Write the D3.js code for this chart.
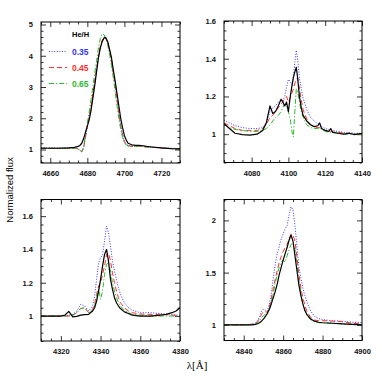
<!DOCTYPE html>
<html><head><meta charset="utf-8">
<script src="https://cdn.jsdelivr.net/npm/d3@7"></script>
<style>
html,body{margin:0;padding:0;background:#fff;}
svg{display:block;font-family:"Liberation Sans",Arial,sans-serif;}
</style></head>
<body><svg id="c" width="382" height="382"></svg>
<script>
// ---------- DATA ----------
const legendLabels = ["0.35", "0.45", "0.65"];
const legendTitle = "He/H";
const yTitle = "Normalized flux";
const xTitle = "λ[Å]";

// Panel 1: He II 4686
const p1Wave = [4655,4660,4665,4670,4673,4675,4676,4677,4678,4679,4680,4681,4682,4683,4684,4685,4686,4687,4688,4689,4690,4691,4692,4693,4694,4695,4696,4697,4698,4699,4700,4701,4702,4704,4706,4708,4710,4712,4715,4720,4725,4730];
const p1Obs  = [1.04,1.04,1.04,1.05,1.07,1.1,1.13,1.2,1.35,1.55,1.75,1.95,2.25,2.65,3.05,3.5,3.95,4.25,4.45,4.57,4.58,4.45,4.2,3.95,3.55,3.2,2.8,2.4,2.0,1.7,1.45,1.3,1.2,1.15,1.13,1.13,1.12,1.1,1.08,1.05,1.03,1.02];
const p1M035 = [1.06,1.055,1.05,1.05,1.045,1.03,0.98,0.94,1.05,1.38,1.72,2.02,2.35,2.75,3.15,3.55,3.92,4.25,4.47,4.6,4.58,4.45,4.2,3.9,3.5,3.1,2.65,2.2,1.8,1.5,1.28,1.17,1.13,1.11,1.11,1.12,1.11,1.09,1.07,1.05,1.04,1.03];
const p1M045 = [1.04,1.04,1.04,1.04,1.04,1.02,0.97,0.93,1.05,1.4,1.75,2.05,2.4,2.8,3.2,3.6,3.95,4.3,4.5,4.6,4.55,4.4,4.15,3.85,3.45,3.05,2.6,2.15,1.75,1.45,1.25,1.15,1.12,1.1,1.1,1.1,1.1,1.08,1.07,1.05,1.03,1.02];
const p1M065 = [1.04,1.04,1.04,1.04,1.04,1.02,0.96,0.92,1.1,1.5,1.85,2.2,2.6,3.0,3.45,3.85,4.25,4.55,4.7,4.68,4.55,4.35,4.05,3.7,3.3,2.85,2.4,2.0,1.65,1.38,1.22,1.14,1.11,1.1,1.1,1.1,1.09,1.08,1.07,1.05,1.03,1.02];

// Panel 2: H delta
const p2Wave = [4065,4068,4071,4075,4079,4083,4086,4088,4090,4091.5,4093,4094.5,4096,4097,4098,4099,4100,4101,4102,4102.7,4103.5,4104.3,4105,4106,4107,4108,4110,4112,4114,4116,4117,4118,4120,4122,4123,4124,4127,4130,4133,4136,4140];
const p2Obs  = [1.055,1.03,1.005,0.998,0.995,1.0,1.02,1.06,1.15,1.11,1.12,1.15,1.185,1.17,1.15,1.17,1.12,1.2,1.26,1.3,1.33,1.355,1.3,1.2,1.14,1.1,1.07,1.05,1.04,1.045,1.06,1.03,1.02,1.015,1.03,1.01,1.005,1.0,1.005,0.998,1.005];
const p2M035 = [1.075,1.06,1.045,1.035,1.03,1.03,1.035,1.06,1.12,1.14,1.15,1.17,1.18,1.18,1.2,1.25,1.29,1.28,1.26,1.3,1.38,1.445,1.4,1.3,1.24,1.19,1.13,1.09,1.07,1.055,1.055,1.04,1.03,1.025,1.025,1.02,1.015,1.01,1.01,1.005,1.005];
const p2M045 = [1.06,1.045,1.03,1.02,1.02,1.02,1.03,1.05,1.09,1.1,1.12,1.14,1.16,1.17,1.19,1.2,1.17,1.19,1.22,1.24,1.27,1.29,1.3,1.24,1.18,1.13,1.08,1.05,1.04,1.035,1.035,1.03,1.02,1.015,1.015,1.012,1.01,1.005,1.005,1.0,1.0];
const p2M065 = [1.05,1.035,1.025,1.02,1.015,1.015,1.02,1.03,1.05,1.07,1.09,1.1,1.12,1.14,1.16,1.15,1.12,1.08,1.01,0.985,1.12,1.24,1.23,1.17,1.12,1.09,1.05,1.035,1.03,1.03,1.035,1.025,1.015,1.01,1.01,1.01,1.005,1.0,1.0,1.0,1.0];

// Panel 3: H gamma
const p3Wave = [4310,4315,4320,4322,4324,4326,4328,4330,4332,4334,4336,4337,4338,4339,4340,4341,4342,4343,4344,4345,4346,4347,4348,4349,4350,4352,4354,4356,4360,4365,4370,4373,4376,4378,4380];
const p3Obs  = [1.0,1.0,1.0,1.005,1.028,0.995,0.998,1.005,1.008,1.01,1.03,1.05,1.09,1.15,1.22,1.3,1.37,1.4,1.33,1.22,1.16,1.11,1.08,1.06,1.045,1.025,1.015,1.005,1.0,1.0,1.005,1.01,1.02,1.03,1.05];
const p3M035 = [1.0,1.0,1.0,1.0,1.005,1.01,1.03,1.07,1.06,1.03,1.06,1.12,1.22,1.32,1.35,1.37,1.45,1.54,1.5,1.42,1.33,1.27,1.22,1.17,1.13,1.08,1.05,1.035,1.02,1.02,1.015,1.012,1.01,1.005,1.005];
const p3M045 = [1.0,1.0,1.0,1.0,1.0,1.005,1.02,1.045,1.05,1.02,1.04,1.07,1.13,1.18,1.2,1.25,1.3,1.37,1.38,1.33,1.26,1.2,1.15,1.11,1.08,1.05,1.03,1.02,1.012,1.01,1.01,1.008,1.005,1.005,1.0];
const p3M065 = [1.0,1.0,1.0,1.0,1.0,1.005,1.02,1.045,1.05,1.02,1.03,1.06,1.11,1.16,1.1,1.15,1.25,1.31,1.32,1.27,1.2,1.15,1.11,1.08,1.06,1.035,1.02,1.01,1.005,1.0,1.0,1.0,1.0,1.0,1.0];

// Panel 4: H beta
const p4Wave = [4830,4835,4840,4844,4846,4847,4848,4849,4850,4851,4852,4853,4854,4855,4856,4857,4858,4859,4860,4861,4862,4863,4864,4865,4866,4867,4868,4869,4870,4871,4872,4874,4876,4878,4880,4885,4890,4895,4900];
const p4Obs  = [1.0,1.0,1.0,1.0,1.005,1.01,1.02,1.035,1.055,1.08,1.11,1.15,1.2,1.26,1.32,1.39,1.48,1.55,1.62,1.68,1.74,1.81,1.86,1.8,1.66,1.52,1.38,1.28,1.2,1.14,1.1,1.055,1.035,1.025,1.02,1.015,1.01,1.005,1.0];
const p4M035 = [1.0,1.0,1.0,1.005,1.02,1.04,1.08,1.13,1.15,1.14,1.13,1.2,1.3,1.45,1.58,1.68,1.75,1.82,1.87,1.92,1.95,2.05,2.13,2.1,1.95,1.75,1.55,1.45,1.35,1.28,1.22,1.13,1.08,1.06,1.05,1.04,1.035,1.025,1.02];
const p4M045 = [1.0,1.0,1.0,1.005,1.015,1.03,1.06,1.1,1.13,1.125,1.12,1.17,1.25,1.35,1.44,1.52,1.6,1.65,1.7,1.74,1.77,1.82,1.87,1.86,1.8,1.65,1.48,1.35,1.26,1.19,1.13,1.07,1.045,1.04,1.04,1.035,1.03,1.015,1.01];
const p4M065 = [1.0,1.0,1.0,1.0,1.01,1.02,1.04,1.07,1.09,1.1,1.1,1.15,1.22,1.3,1.4,1.48,1.55,1.6,1.62,1.6,1.66,1.72,1.77,1.78,1.72,1.58,1.42,1.3,1.2,1.14,1.09,1.05,1.03,1.02,1.02,1.015,1.01,1.005,1.0];

// ---------- LAYOUT / STYLE ----------
const seriesStyle = [
  {key:"m035", color:"#3535ff", dash:"1,1.6", width:1.0},
  {key:"m045", color:"#ff2e2e", dash:"5,3", width:1.0},
  {key:"m065", color:"#2cb82c", dash:"5,2,1.2,2", width:1.0},
  {key:"obs",  color:"#000000", dash:null, width:1.2}
];
const panels = [
  {wave:p1Wave, obs:p1Obs, m035:p1M035, m045:p1M045, m065:p1M065,
   box:[41,22,180,163], xd:[4655,4730], yd:[0.568,5.08], yMaj:1, yMin:0.2, legend:true},
  {wave:p2Wave, obs:p2Obs, m035:p2M035, m045:p2M045, m065:p2M065,
   box:[224,21,362,162.5], xd:[4065,4140], yd:[0.85,1.6], yMaj:0.2, yMin:0.05},
  {wave:p3Wave, obs:p3Obs, m035:p3M035, m045:p3M045, m065:p3M065,
   box:[41,199.5,180,341], xd:[4310,4380], yd:[0.85,1.7], yMaj:0.2, yMin:0.05},
  {wave:p4Wave, obs:p4Obs, m035:p4M035, m045:p4M045, m065:p4M065,
   box:[224,199.5,362,340.5], xd:[4830,4900], yd:[0.85,2.2], yMaj:0.5, yMin:0.1}
];

const svg = d3.select("#c");
function rng(a,b,step){ const out=[]; const s=Math.ceil(a/step-1e-9); for(let k=s;k*step<=b+1e-9;k++) out.push(+(k*step).toFixed(4)); return out; }

panels.forEach((p,i)=>{
  const [x0,y0,x1,y1]=p.box;
  const x=d3.scaleLinear().domain(p.xd).range([x0,x1]);
  const y=d3.scaleLinear().domain(p.yd).range([y1,y0]);
  const g=svg.append("g");
  const clipId="clip"+i;
  svg.append("clipPath").attr("id",clipId).append("rect").attr("x",x0).attr("y",y0).attr("width",x1-x0).attr("height",y1-y0);

  const xMaj=rng(p.xd[0],p.xd[1],20), xMin=rng(p.xd[0],p.xd[1],5).filter(v=>!xMaj.includes(v));
  const yMaj=rng(p.yd[0],p.yd[1],p.yMaj);
  const yMin=rng(p.yd[0],p.yd[1],p.yMin).filter(v=>!yMaj.some(m=>Math.abs(m-v)<1e-6));
  const fmt=v=>String(+v.toFixed(2));

  function ax(gen, tr, vals, size, labels){
    const a=g.append("g").attr("transform",tr).call(gen.tickValues(vals).tickSizeInner(size).tickSizeOuter(0).tickPadding(labels?8:0).tickFormat(labels?fmt:()=> ""));
    a.select(".domain").remove();
    a.selectAll("line").attr("stroke","#000").attr("stroke-width",0.8);
    a.selectAll("text").attr("font-size","7.5px").attr("font-weight","bold").attr("fill","#111").attr("font-family","'Liberation Sans',Arial,sans-serif");
    return a;
  }
  // bottom / top
  ax(d3.axisBottom(x),`translate(0,${y1})`,xMaj,-5,true);
  ax(d3.axisBottom(x),`translate(0,${y1})`,xMin,-2.5,false);
  ax(d3.axisTop(x),`translate(0,${y0})`,xMaj,-5,false);
  ax(d3.axisTop(x),`translate(0,${y0})`,xMin,-2.5,false);
  // left / right
  ax(d3.axisLeft(y),`translate(${x0},0)`,yMaj,-5,true);
  ax(d3.axisLeft(y),`translate(${x0},0)`,yMin,-2.5,false);
  ax(d3.axisRight(y),`translate(${x1},0)`,yMaj,-5,false);
  ax(d3.axisRight(y),`translate(${x1},0)`,yMin,-2.5,false);

  const lines=g.append("g").attr("clip-path",`url(#${clipId})`);
  seriesStyle.forEach(s=>{
    const vals=p[s.key];
    const line=d3.line().x((d,k)=>x(p.wave[k])).y(d=>y(d));
    lines.append("path").datum(vals).attr("d",line).attr("fill","none")
      .attr("stroke",s.color).attr("stroke-width",s.width)
      .attr("stroke-dasharray",s.dash).attr("stroke-linejoin","round");
  });

  g.append("rect").attr("x",x0).attr("y",y0).attr("width",x1-x0).attr("height",y1-y0)
    .attr("fill","none").attr("stroke","#000").attr("stroke-width",1);

  if(p.legend){
    const lg=g.append("g");
    lg.append("text").attr("x",72).attr("y",36.5).text(legendTitle)
      .attr("font-size","7.5px").attr("font-weight","bold").attr("fill","#000");
    const ly=[51.5,67.5,83.5];
    legendLabels.forEach((lab,k)=>{
      const s=seriesStyle[k];
      lg.append("line").attr("x1",49).attr("x2",67).attr("y1",ly[k]).attr("y2",ly[k])
        .attr("stroke",s.color).attr("stroke-width",1).attr("stroke-dasharray",s.dash);
      lg.append("text").attr("x",72).attr("y",ly[k]+3).text(lab)
        .attr("font-size","8.5px").attr("font-weight","bold").attr("fill",s.color);
    });
  }
});

svg.append("text").attr("transform","translate(13,190) rotate(-90)").attr("text-anchor","middle")
  .attr("font-size","9.5px").attr("fill","#000").text(yTitle);
svg.append("text").attr("x",197).attr("y",369).attr("text-anchor","middle")
  .attr("font-family","'Liberation Serif','Times New Roman',serif")
  .attr("font-size","11px").attr("fill","#000").text(xTitle);
</script></body></html>
